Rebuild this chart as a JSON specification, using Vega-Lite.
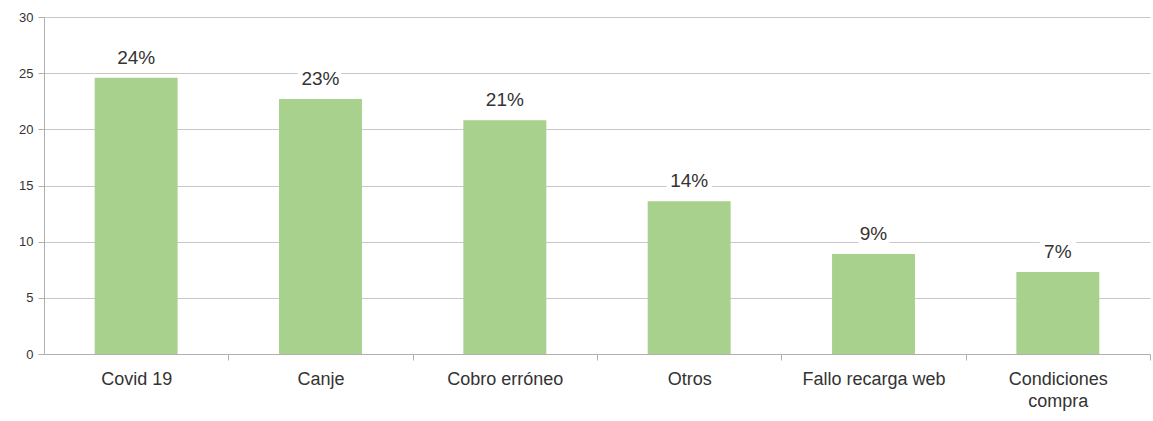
{
  "$schema": "https://vega.github.io/schema/vega-lite/v6.json",
  "autosize": {"type": "none"},
  "padding": {"left": 44, "top": 17, "right": 3, "bottom": 67},
  "width": 1106,
  "height": 337,
  "background": "white",
  "config": {
    "view": {"stroke": null},
    "font": "Liberation Sans"
  },
  "data": {
    "values": [
      {"categoria": "Covid 19", "valor": 24.6, "etiqueta": "24%"},
      {"categoria": "Canje", "valor": 22.7, "etiqueta": "23%"},
      {"categoria": "Cobro erróneo", "valor": 20.8, "etiqueta": "21%"},
      {"categoria": "Otros", "valor": 13.6, "etiqueta": "14%"},
      {"categoria": "Fallo recarga web", "valor": 8.9, "etiqueta": "9%"},
      {"categoria": "Condiciones compra", "valor": 7.3, "etiqueta": "7%"}
    ]
  },
  "encoding": {
    "x": {
      "field": "categoria",
      "type": "nominal",
      "sort": null,
      "scale": {"paddingInner": 0.55, "paddingOuter": 0.275},
      "axis": {
        "title": null,
        "labelAngle": 0,
        "labelFontSize": 18,
        "labelColor": "#333333",
        "labelPadding": 10,
        "labelLineHeight": 22,
        "labelExpr": "datum.label == 'Condiciones compra' ? ['Condiciones', 'compra'] : datum.label",
        "tickOffset": 92.17,
        "labelOffset": -92.17,
        "tickSize": 6,
        "tickColor": "#b0b0b0",
        "domainColor": "#b0b0b0",
        "grid": false
      }
    },
    "y": {
      "field": "valor",
      "type": "quantitative",
      "scale": {"domain": [0, 30]},
      "axis": {
        "title": null,
        "values": [0, 5, 10, 15, 20, 25, 30],
        "labelFontSize": 13,
        "labelColor": "#333333",
        "labelPadding": 5,
        "tickSize": 6,
        "tickColor": "#b0b0b0",
        "domainColor": "#b0b0b0",
        "gridColor": "#c8c8c8"
      }
    }
  },
  "layer": [
    {"mark": {"type": "bar", "color": "#a9d18e"}},
    {
      "mark": {"type": "text", "baseline": "bottom", "dy": -10, "fontSize": 19, "color": "white", "stroke": "white", "strokeWidth": 10},
      "encoding": {"text": {"field": "etiqueta"}}
    },
    {
      "mark": {"type": "text", "baseline": "bottom", "dy": -10, "fontSize": 19, "color": "#333333"},
      "encoding": {"text": {"field": "etiqueta"}}
    }
  ]
}
